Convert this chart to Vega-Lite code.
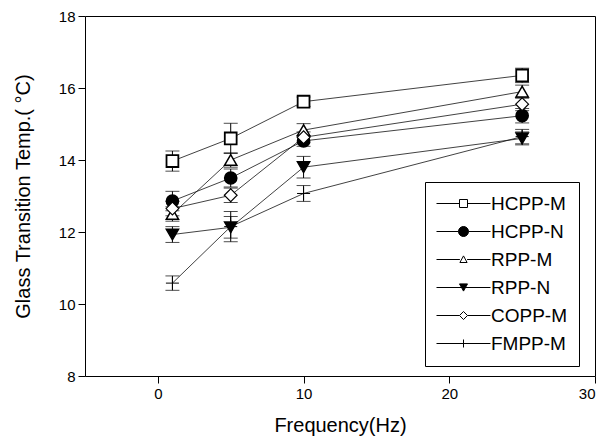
{
  "$schema": "https://vega.github.io/schema/vega-lite/v6.json",
  "width": 510,
  "height": 360,
  "autosize": {"type": "none"},
  "padding": {"left": 85, "top": 16, "right": 10, "bottom": 61},
  "background": "white",
  "config": {
    "view": {"stroke": "black", "strokeWidth": 1},
    "font": "Liberation Sans",
    "axis": {
      "domain": false,
      "grid": false,
      "ticks": true,
      "tickSize": 7,
      "tickColor": "black",
      "tickWidth": 1,
      "labelColor": "black",
      "labelFont": "Liberation Sans",
      "labelFontSize": 15,
      "labelPadding": 3,
      "titleFont": "Liberation Sans",
      "titleFontSize": 20,
      "titleFontWeight": "normal",
      "titleColor": "black"
    }
  },
  "data": {
    "values": [
      {"series": "HCPP-M", "freq": 1, "tg": 13.97, "lo": 13.69, "hi": 14.25},
      {"series": "HCPP-M", "freq": 5, "tg": 14.6, "lo": 14.18, "hi": 15.02},
      {"series": "HCPP-M", "freq": 10, "tg": 15.62, "lo": 15.49, "hi": 15.75},
      {"series": "HCPP-M", "freq": 25, "tg": 16.35, "lo": 16.15, "hi": 16.55},
      {"series": "HCPP-N", "freq": 1, "tg": 12.86, "lo": 12.59, "hi": 13.13},
      {"series": "HCPP-N", "freq": 5, "tg": 13.5, "lo": 13.25, "hi": 13.75},
      {"series": "HCPP-N", "freq": 10, "tg": 14.53, "lo": 14.38, "hi": 14.68},
      {"series": "HCPP-N", "freq": 25, "tg": 15.23, "lo": 15.03, "hi": 15.43},
      {"series": "RPP-M", "freq": 1, "tg": 12.5, "lo": 12.3, "hi": 12.7},
      {"series": "RPP-M", "freq": 5, "tg": 14.0, "lo": 13.8, "hi": 14.2},
      {"series": "RPP-M", "freq": 10, "tg": 14.83, "lo": 14.65, "hi": 15.01},
      {"series": "RPP-M", "freq": 25, "tg": 15.9, "lo": 15.72, "hi": 16.08},
      {"series": "RPP-N", "freq": 1, "tg": 11.93, "lo": 11.71, "hi": 12.15},
      {"series": "RPP-N", "freq": 5, "tg": 12.13, "lo": 11.83, "hi": 12.43},
      {"series": "RPP-N", "freq": 10, "tg": 13.8, "lo": 13.5, "hi": 14.1},
      {"series": "RPP-N", "freq": 25, "tg": 14.6, "lo": 14.42, "hi": 14.78},
      {"series": "COPP-M", "freq": 1, "tg": 12.65, "lo": 12.45, "hi": 12.85},
      {"series": "COPP-M", "freq": 5, "tg": 13.02, "lo": 12.82, "hi": 13.22},
      {"series": "COPP-M", "freq": 10, "tg": 14.63, "lo": 14.48, "hi": 14.78},
      {"series": "COPP-M", "freq": 25, "tg": 15.55, "lo": 15.37, "hi": 15.73},
      {"series": "FMPP-M", "freq": 1, "tg": 10.58, "lo": 10.38, "hi": 10.78},
      {"series": "FMPP-M", "freq": 5, "tg": 12.15, "lo": 11.73, "hi": 12.57},
      {"series": "FMPP-M", "freq": 10, "tg": 13.07, "lo": 12.85, "hi": 13.29},
      {"series": "FMPP-M", "freq": 25, "tg": 14.65, "lo": 14.45, "hi": 14.85}
    ]
  },
  "layer": [
    {
      "mark": {"type": "line", "color": "#111111", "strokeWidth": 0.8},
      "encoding": {
        "x": {"field": "freq", "type": "quantitative", "scale": {"domain": [-5, 30], "nice": false}, "axis": {"values": [0, 10, 20, 30], "title": "Frequency(Hz)", "titlePadding": 14}},
        "y": {"field": "tg", "type": "quantitative", "scale": {"domain": [8, 18], "nice": false, "zero": false}, "axis": {"values": [8, 10, 12, 14, 16, 18], "title": "Glass Transition Temp.( °C)", "titlePadding": 25}},
        "detail": {"field": "series", "type": "nominal"}
      }
    },
    {
      "mark": {"type": "errorbar", "color": "black", "thickness": 1, "ticks": {"size": 14, "color": "black", "thickness": 1}},
      "encoding": {
        "x": {"field": "freq", "type": "quantitative", "title": "Frequency(Hz)"},
        "y": {"field": "lo", "type": "quantitative", "title": "Glass Transition Temp.( °C)"},
        "y2": {"field": "hi"}
      }
    },
    {
      "mark": {"type": "point", "filled": true, "stroke": "black", "opacity": 1},
      "encoding": {
        "x": {"field": "freq", "type": "quantitative", "title": "Frequency(Hz)"},
        "y": {"field": "tg", "type": "quantitative", "title": "Glass Transition Temp.( °C)"},
        "shape": {"field": "series", "type": "nominal", "legend": null, "scale": {"domain": ["HCPP-M", "HCPP-N", "RPP-M", "RPP-N", "COPP-M", "FMPP-M"], "range": ["square", "circle", "triangle-up", "triangle-down", "diamond", "M-1,0H1M0,-1V1"]}},
        "fill": {"field": "series", "type": "nominal", "legend": null, "scale": {"domain": ["HCPP-M", "HCPP-N", "RPP-M", "RPP-N", "COPP-M", "FMPP-M"], "range": ["white", "black", "white", "black", "white", "white"]}},
        "size": {"field": "series", "type": "ordinal", "legend": null, "scale": {"domain": ["HCPP-M", "HCPP-N", "RPP-M", "RPP-N", "COPP-M", "FMPP-M"], "range": [140, 170, 100, 100, 90, 110]}},
        "strokeWidth": {"field": "series", "type": "ordinal", "legend": null, "scale": {"domain": ["HCPP-M", "HCPP-N", "RPP-M", "RPP-N", "COPP-M", "FMPP-M"], "range": [1.8, 1, 1.1, 1, 1.1, 1.1]}}
      }
    },
    {
      "mark": {"type": "point", "filled": true, "stroke": "black", "strokeWidth": 1, "opacity": 0},
      "encoding": {
        "x": {"field": "freq", "type": "quantitative", "title": "Frequency(Hz)"},
        "y": {"field": "tg", "type": "quantitative", "title": "Glass Transition Temp.( °C)"},
        "shape": {"field": "series", "type": "nominal",
          "scale": {"domain": ["HCPP-M", "HCPP-N", "RPP-M", "RPP-N", "COPP-M", "FMPP-M"],
            "range": [
              "M-6.75,0H-1M1,0H6.75M-1,-1H1V1H-1Z",
              "M-6.75,0H-1.25M1.25,0H6.75M-1.25,0A1.25,1.25,0,1,0,1.25,0A1.25,1.25,0,1,0,-1.25,0Z",
              "M-6.75,0H-0.9M0.9,0H6.75M0,-0.9L0.9,0.75L-0.9,0.75Z",
              "M-6.75,0H6.75M-1,-0.9L1,-0.9L0,0.9Z",
              "M-6.75,0H-1M1,0H6.75M0,-1L1,0L0,1L-1,0Z",
              "M-6.75,0H6.75M0,-1V1"
            ]},
          "legend": {"orient": "none", "legendX": 340, "legendY": 166, "title": null, "labelFontSize": 19, "labelFont": "Liberation Sans", "labelColor": "black", "symbolSize": 64, "symbolStrokeColor": "black", "symbolStrokeWidth": 1, "symbolOpacity": 1, "symbolOffset": 17, "labelOffset": 18, "padding": 12, "rowPadding": 8, "strokeColor": "black", "fillColor": "white",
            "encode": {"symbols": {"update": {"stroke": {"value": "black"}, "strokeWidth": {"value": 1}, "opacity": {"value": 1}}}}}
        },
        "fill": {"field": "series", "type": "nominal",
          "scale": {"domain": ["HCPP-M", "HCPP-N", "RPP-M", "RPP-N", "COPP-M", "FMPP-M"], "range": ["white", "black", "white", "black", "white", "white"]},
          "legend": {"orient": "none", "legendX": 340, "legendY": 166, "title": null, "labelFontSize": 19, "labelFont": "Liberation Sans", "labelColor": "black", "symbolSize": 64, "symbolStrokeColor": "black", "symbolStrokeWidth": 1, "symbolOpacity": 1, "symbolOffset": 17, "labelOffset": 18, "padding": 12, "rowPadding": 8, "strokeColor": "black", "fillColor": "white",
            "encode": {"symbols": {"update": {"stroke": {"value": "black"}, "strokeWidth": {"value": 1}, "opacity": {"value": 1}}}}}
        }
      }
    }
  ],
  "resolve": {"scale": {"shape": "independent", "fill": "independent"}}
}
